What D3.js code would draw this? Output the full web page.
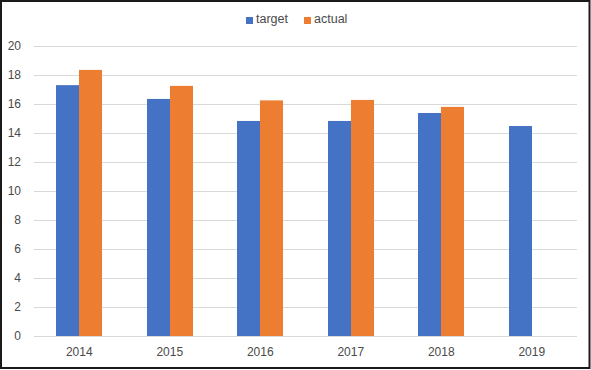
<!DOCTYPE html>
<html>
<head>
<meta charset="utf-8">
<script src="https://cdn.jsdelivr.net/npm/d3@7"></script>
<style>
  body { margin: 0; background: #fff; }
  svg { display: block; }
</style>
</head>
<body>
<svg id="svg"></svg>
<script>
// data
const years = ['2014', '2015', '2016', '2017', '2018', '2019']
const target = [17.3, 16.35, 14.83, 14.83, 15.38, 14.48]
const actual = [18.35, 17.25, 16.25, 16.28, 15.8, null]
const yTicks = [0, 2, 4, 6, 8, 10, 12, 14, 16, 18, 20]
const seriesNames = ['target', 'actual']
const seriesColors = ['#4472c4', '#ed7d31']

const width = 591
const height = 370
const font = 'Liberation Sans, Arial, sans-serif'
const textColor = '#4a4a4a'

const svg = d3.select('#svg').attr('width', width).attr('height', height)

// outer border
svg.append('rect')
    .attr('x', 1).attr('y', 1)
    .attr('width', width - 2.5).attr('height', height - 3)
    .attr('fill', '#fff')
    .attr('stroke', '#1a1a1a')
    .attr('stroke-width', 2)

const x = d3.scaleBand()
    .domain(years)
    .range([34, 577])
    .paddingInner(0.49)
    .paddingOuter(0.245)

const xSeries = d3.scaleBand()
    .domain(seriesNames)
    .range([0, x.bandwidth()])

const y = d3.scaleLinear()
    .domain([0, 20])
    .range([336, 46])

// gridlines + y labels
const yAxis = svg.append('g')
    .attr('transform', 'translate(34,0)')
    .call(d3.axisLeft(y).tickValues(yTicks).tickSize(-(577 - 34)).tickPadding(8))
yAxis.select('.domain').remove()
yAxis.selectAll('.tick line').attr('stroke', '#d9d9d9').attr('stroke-width', 1)
yAxis.selectAll('.tick text')
    .attr('font-family', font)
    .attr('font-size', 12)
    .attr('fill', textColor)
    .attr('x', -13)

// x labels
const xAxis = svg.append('g')
    .attr('transform', 'translate(0,336)')
    .call(d3.axisBottom(x).tickSize(0).tickPadding(11))
xAxis.select('.domain').remove()
xAxis.selectAll('.tick text')
    .attr('font-family', font)
    .attr('font-size', 12)
    .attr('fill', textColor)

// bars
const series = [target, actual]
series.forEach((values, si) => {
    svg.append('g')
        .selectAll('rect')
        .data(years.map((yr, i) => ({ yr, v: values[i] })).filter(d => d.v != null))
        .join('rect')
        .attr('x', d => Math.round(x(d.yr) + xSeries(seriesNames[si])))
        .attr('y', d => y(d.v))
        .attr('width', Math.round(xSeries.bandwidth()))
        .attr('height', d => y(0) - y(d.v))
        .attr('fill', seriesColors[si])
})

// legend
const legendX = [246, 304]
seriesNames.forEach((name, i) => {
    svg.append('rect')
        .attr('x', legendX[i]).attr('y', 17)
        .attr('width', 7).attr('height', 7)
        .attr('fill', seriesColors[i])
    svg.append('text')
        .text(name)
        .attr('font-family', font)
        .attr('font-size', 12.5)
        .attr('fill', textColor)
        .attr('x', legendX[i] + 10)
        .attr('y', 23)
})
</script>
</body>
</html>
